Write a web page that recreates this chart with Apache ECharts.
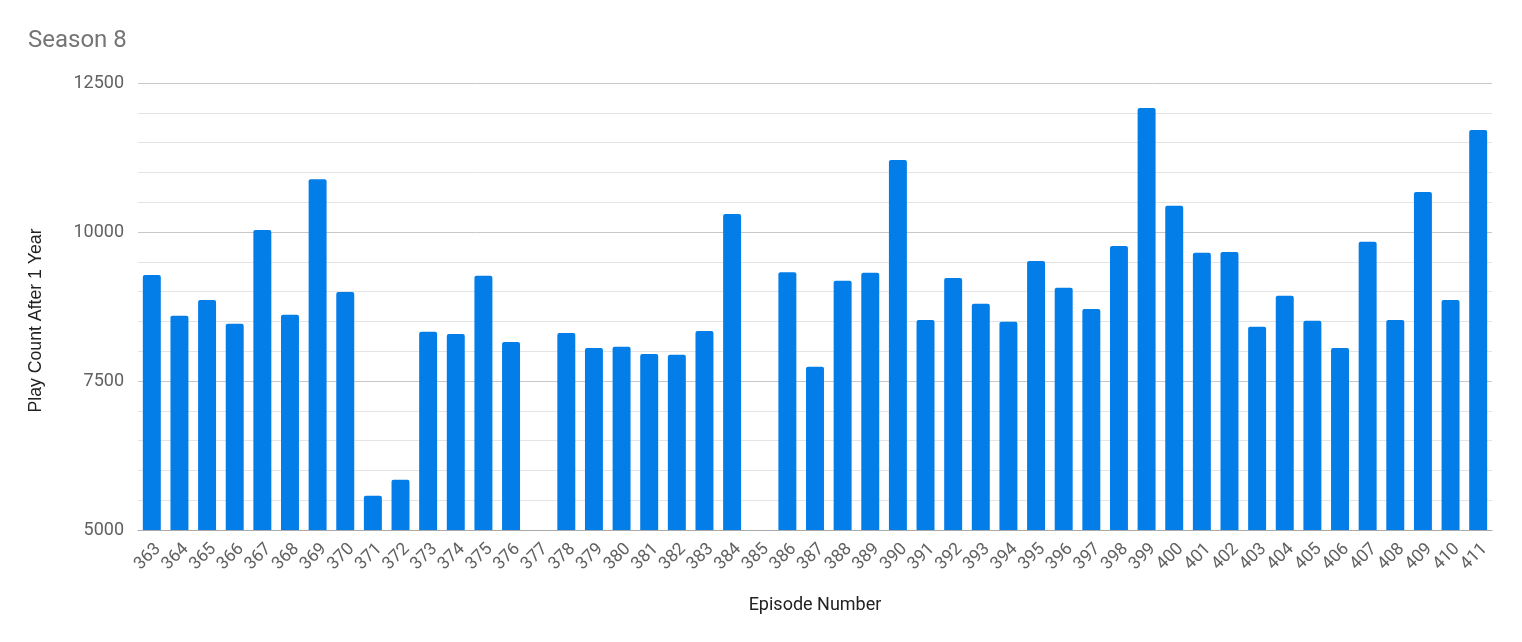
<!DOCTYPE html>
<html><head><meta charset="utf-8">
<script src="https://cdn.jsdelivr.net/npm/echarts@6/dist/echarts.min.js"></script>
<style>html,body{margin:0;padding:0;background:#fff}#c{width:1522px;height:642px}</style>
</head><body><div id="c"></div>
<script>
const episodes = ['363','364','365','366','367','368','369','370','371','372','373','374','375','376','377','378','379','380','381','382','383','384','385','386','387','388','389','390','391','392','393','394','395','396','397','398','399','400','401','402','403','404','405','406','407','408','409','410','411'];
const playCounts = [9280,8595,8860,8460,10035,8610,10885,8995,5575,5845,8325,8290,9265,8155,null,8305,8055,8075,7955,7940,8340,10300,null,9325,7740,9180,9315,11210,8525,9230,8795,8495,9515,9065,8710,9765,12080,10440,9650,9665,8410,8930,8510,8055,9835,8525,10670,8860,11710];
const yTicks = [5000,7500,10000,12500];

const chart = echarts.init(document.getElementById('c'));
chart.setOption({
  animation:false,
  title:{text:'Season 8',left:28,top:29,padding:0,textStyle:{fontFamily:'Roboto',fontSize:24,fontWeight:'normal',color:'#757575'}},
  grid:{left:138,right:30,top:83,bottom:112},
  xAxis:{type:'category',data:episodes,name:'Episode Number',nameLocation:'middle',nameGap:66,
    nameTextStyle:{fontFamily:'Roboto',fontSize:18,color:'#222'},
    axisTick:{show:false},axisLine:{lineStyle:{color:'#aaa'}},
    axisLabel:{rotate:45,interval:0,fontFamily:'Roboto',fontSize:17.5,color:'#616161',margin:10,verticalAlign:'top'}},
  yAxis:{type:'value',min:yTicks[0],max:yTicks[yTicks.length-1],interval:2500,
    name:'Play Count After 1 Year',nameLocation:'middle',nameGap:93,
    nameTextStyle:{fontFamily:'Liberation Sans',fontSize:17.7,color:'#222',padding:[0,28,0,0]},
    axisLabel:{fontFamily:'Roboto',fontSize:18,color:'#616161',margin:14,formatter:v=>String(v)},
    splitLine:{lineStyle:{color:'#c8c8c8'}},
    minorTick:{show:false,splitNumber:5},
    minorSplitLine:{show:true,lineStyle:{color:'#e4e4e4'}}},
  series:[{type:'bar',data:playCounts,barWidth:'65%',
    itemStyle:{color:'#037ee9',borderRadius:[2,2,0,0]}}]
});
</script></body></html>
